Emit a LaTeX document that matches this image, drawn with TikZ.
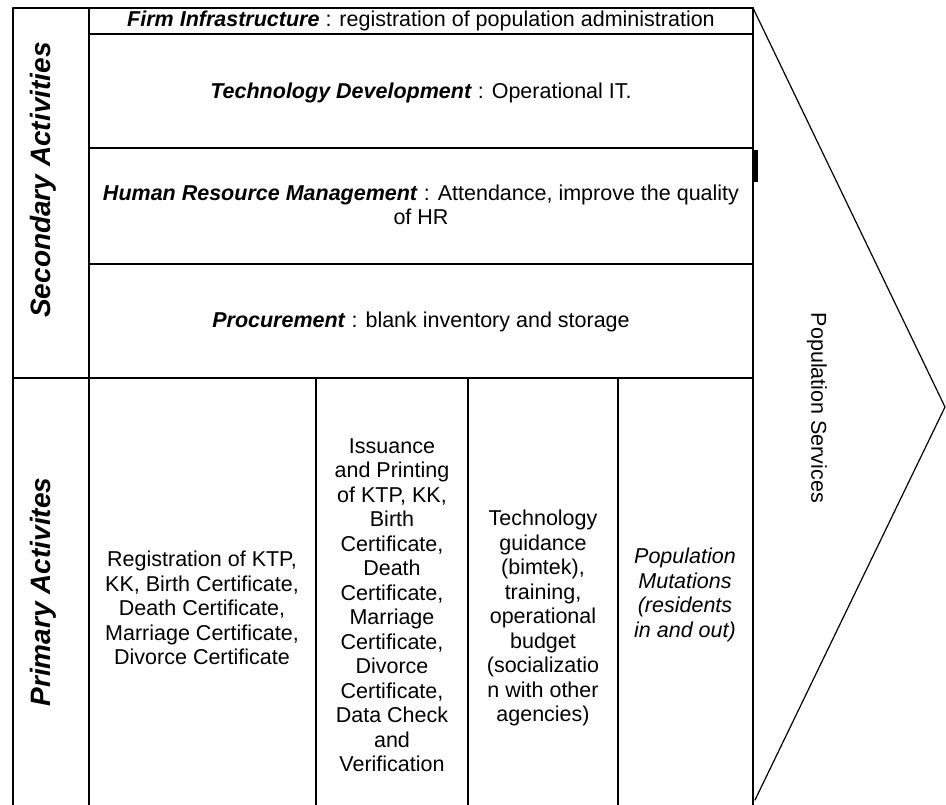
\documentclass[tikz,border=0pt]{standalone}
\usepackage{fontspec}
\setmainfont{Liberation Sans}
\begin{document}
\begin{tikzpicture}[x=1pt, y=-1pt, font=\fontsize{21.5}{24.5}\selectfont, line join=round, line cap=round,
  cell/.style={align=center, inner sep=0pt},
  side/.style={font=\fontsize{28}{30}\selectfont\bfseries\itshape, inner sep=0pt, rotate=90}]
\useasboundingbox (0,0) rectangle (946,805);
% frame of the chain
\draw[line width=1.4pt] (13,805)--(13,8)--(753,8);
\draw[line width=1.4pt] (89,8)--(89,805);
\foreach \y in {34,148,264} \draw[line width=1.1pt] (89,\y)--(753,\y);
\draw[line width=1.3pt] (13,378)--(753,378);
\foreach \x in {316,468,618} \draw[line width=1.1pt] (\x,378)--(\x,805);
\draw[line width=2.2pt] (753,8)--(753,805);
\draw[line width=4pt, line cap=butt] (756,150)--(756,182);
\draw[line width=1.2pt] (753,8)--(945,407)--(755,800);
% labels
\node[side] (sec) at (43,180) {Secondary Activities};
\node[side] (prim) at (43,592) {Primary Activites};
\node[cell, rotate=-90] (serv) at (817,408) {Population Services};
\node[cell] (firm) at (421,21) {\textbf{\textit{Firm Infrastructure}} : registration of population administration};
\node[cell] (tech) at (421,93) {\textbf{\textit{Technology Development}} : Operational IT.};
\node[cell] (hrm) at (421,205) {\textbf{\textit{Human Resource Management}} : Attendance, improve the quality\\of HR};
\node[cell] (proc) at (421,322) {\textbf{\textit{Procurement}} : blank inventory and storage};
\node[cell] (reg) at (202,608) {Registration of KTP,\\KK, Birth Certificate,\\Death Certificate,\\Marriage Certificate,\\Divorce Certificate};
\node[cell] (iss) at (392,605) {Issuance\\and Printing\\of KTP, KK,\\Birth\\Certificate,\\Death\\Certificate,\\Marriage\\Certificate,\\Divorce\\Certificate,\\Data Check\\and\\Verification};
\node[cell] (guide) at (543,618) {Technology\\guidance\\(bimtek),\\training,\\operational\\budget\\(socializatio\\n with other\\agencies)};
\node[cell, font=\fontsize{21.5}{24.5}\selectfont\itshape] (mut) at (685,595) {Population\\Mutations\\(residents\\in and out)};
\end{tikzpicture}
\end{document}
